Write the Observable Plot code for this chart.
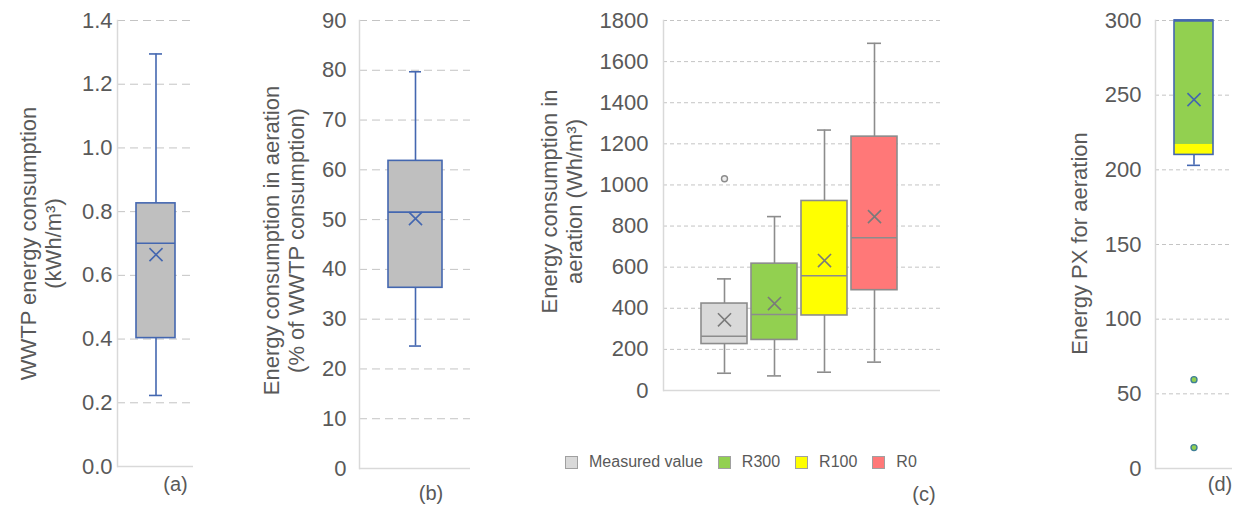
<!DOCTYPE html>
<html><head><meta charset="utf-8">
<script src="https://cdn.jsdelivr.net/npm/d3@7"></script>
<script src="https://cdn.jsdelivr.net/npm/@observablehq/plot@0.6"></script>
<style>
body{margin:0;background:#fff;font-family:"Liberation Sans",Arial,sans-serif;}
#root{position:relative;width:1238px;height:515px;overflow:hidden;background:#fff;}
.panel{position:absolute;top:0;}
#legend{position:absolute;left:565px;top:453px;display:flex;align-items:center;font-size:16px;color:#595959;white-space:nowrap;}
.item{display:flex;align-items:center;margin-right:15px;}
.sw{width:11px;height:11px;border:1px solid #a0a0a0;margin-right:11px;}
</style></head><body><div id="root"></div>
<script>
// ---------- data ----------
// (a) WWTP energy consumption (kWh/m3)
const aCategory = ["WWTP"];
const aMin = [0.223], aQ1 = [0.403], aMedian = [0.701], aQ3 = [0.826], aMax = [1.295], aMean = [0.665];
const aTicks = [0, 0.2, 0.4, 0.6, 0.8, 1.0, 1.2, 1.4];

// (b) Energy consumption in aeration (% of WWTP consumption)
const bCategory = ["Aeration share"];
const bMin = [24.6], bQ1 = [36.3], bMedian = [51.5], bQ3 = [61.8], bMax = [79.7], bMean = [50.2];
const bTicks = [0, 10, 20, 30, 40, 50, 60, 70, 80, 90];

// (c) Energy consumption in aeration (Wh/m3)
const cCategories = ["Measured value", "R300", "R100", "R0"];
const cMin = [84, 71, 89, 138];
const cQ1 = [226, 246, 365, 488];
const cMedian = [264, 370, 558, 743];
const cQ3 = [423, 617, 922, 1235];
const cMax = [543, 846, 1267, 1689];
const cMean = [344, 423, 632, 846];
const cOutlierCategory = ["Measured value"];
const cOutlierValue = [1030];
const cTicks = [0, 200, 400, 600, 800, 1000, 1200, 1400, 1600, 1800];
const cColors = ["#d9d9d9", "#92d050", "#ffff00", "#ff7878"];

// (d) Energy PX for aeration
const dCategory = ["PX"];
const dMin = [203], dQ1 = [210], dSplit = [217], dMedian = [300], dQ3 = [300], dMax = [300], dMean = [247];
const dOutlierValue = [59.5, 14];
const dTicks = [0, 50, 100, 150, 200, 250, 300];

// ---------- build ----------
const TXT = "#595959";
const root = document.getElementById("root");

function rowsOf(cats, mn, q1, med, q3, mx, mean) {
  return cats.map((c, i) => ({cat: c, min: mn[i], q1: q1[i], median: med[i], q3: q3[i], max: mx[i], mean: mean[i]}));
}

function panel(o) {
  const marks = [
    Plot.gridY({ticks: o.ticks, stroke: "#c4c4c4", strokeOpacity: 1, strokeDasharray: o.dash, strokeWidth: 1}),
    Plot.ruleY([o.domain[0]], {stroke: "#d9d9d9", strokeWidth: 1.5}),
    Plot.frame({anchor: "left", stroke: "#d9d9d9", strokeWidth: 1.5}),
    Plot.axisY({ticks: o.ticks, tickSize: 0, tickPadding: o.tickPad, fontSize: 22, tickFormat: o.fmt, fill: TXT}),
    Plot.text([o.title], {frameAnchor: "left", rotate: -90, dx: o.titleDx, dy: o.titleDy, fontSize: 22, lineHeight: 1.14, fill: TXT, textAnchor: "middle"}),
    Plot.text([o.label], {frameAnchor: "bottom", dx: o.labelDx, dy: o.labelDy, fontSize: 20, fill: TXT}),
    // whiskers
    Plot.ruleX(o.rows, {x: "cat", y1: "q3", y2: "max", stroke: o.stroke, strokeWidth: 1.6}),
    Plot.ruleX(o.rows, {x: "cat", y1: "min", y2: "q1", stroke: o.stroke, strokeWidth: 1.6}),
    Plot.tickY(o.rows, {x: "cat", y: "max", stroke: o.stroke, strokeWidth: 1.6, insetLeft: o.capInset, insetRight: o.capInset}),
    Plot.tickY(o.rows, {x: "cat", y: "min", stroke: o.stroke, strokeWidth: 1.6, insetLeft: o.capInset, insetRight: o.capInset}),
    // box
    Plot.barY(o.rows, {x: "cat", y1: "q1", y2: "q3", fill: o.fill}),
    ...(o.extra || []),
    Plot.barY(o.rows, {x: "cat", y1: "q1", y2: "q3", fill: "none", stroke: o.stroke, strokeWidth: 1.6}),
    Plot.tickY(o.rows, {x: "cat", y: "median", stroke: o.stroke, strokeWidth: o.medianWidth || 1.6}),
    Plot.dot(o.rows, {x: "cat", y: "mean", symbol: "times", r: 6, stroke: o.meanStroke, strokeWidth: 1.6}),
    ...(o.outliers ? [Plot.dot(o.outliers, {x: "cat", y: "v", r: 3, fill: o.outFill, stroke: o.outStroke, strokeWidth: 1.4})] : [])
  ];
  const svg = Plot.plot({
    width: o.width, height: 515,
    marginLeft: o.mL, marginRight: o.mR, marginTop: 20, marginBottom: o.mB,
    style: {fontFamily: "'Liberation Sans', Arial, sans-serif", color: TXT, background: "transparent", overflow: "visible"},
    x: {type: "band", domain: o.cats, axis: null, paddingInner: o.padInner, paddingOuter: o.padOuter, align: o.align ?? 0.5},
    y: {domain: o.domain, axis: null},
    color: o.colorScale,
    marks
  });
  const div = document.createElement("div");
  div.className = "panel";
  div.style.left = o.left + "px";
  div.appendChild(svg);
  root.appendChild(div);
}

const BLUE = "#4467b0";

// (a)
panel({
  cats: aCategory, rows: rowsOf(aCategory, aMin, aQ1, aMedian, aQ3, aMax, aMean),
  left: 0, width: 200, mL: 117, mR: 7, mB: 49,
  domain: [0, 1.4], ticks: aTicks, fmt: d3.format(".1f"), tickPad: 5, dash: "8,5",
  padInner: 0, padOuter: 0.47, fill: "#bfbfbf", stroke: BLUE, meanStroke: BLUE,
  title: "WWTP energy consumption\n(kWh/m³)", titleDx: -77, titleDy: 0,
  label: "(a)", labelDx: 20, labelDy: 24, capInset: 13
});

// (b)
panel({
  cats: bCategory, rows: rowsOf(bCategory, bMin, bQ1, bMedian, bQ3, bMax, bMean),
  left: 240, width: 235, mL: 119, mR: 5, mB: 47,
  domain: [0, 90], ticks: bTicks, fmt: d3.format("d"), tickPad: 13, dash: "8,5",
  padInner: 0, padOuter: 0.51, fill: "#bfbfbf", stroke: BLUE, meanStroke: BLUE,
  title: "Energy consumption in aeration\n(% of WWTP consumption)", titleDx: -76, titleDy: -4,
  label: "(b)", labelDx: 16, labelDy: 31, capInset: 21
});

// (c)
const cRows = rowsOf(cCategories, cMin, cQ1, cMedian, cQ3, cMax, cMean);
panel({
  cats: cCategories, rows: cRows,
  left: 520, width: 425, mL: 143, mR: 5, mB: 125,
  domain: [0, 1800], ticks: cTicks, fmt: d3.format("d"), tickPad: 15, dash: "4,3",
  padInner: 0.09, padOuter: 0.78, align: 0.47,
  fill: "cat", colorScale: {domain: cCategories, range: cColors},
  stroke: "#8c8c8c", meanStroke: "#7a7a7a",
  outliers: cOutlierCategory.map((c, i) => ({cat: c, v: cOutlierValue[i]})), outFill: "#eeeeee", outStroke: "#8c8c8c",
  title: "Energy consumption in\naeration (Wh/m³)", titleDx: -102, titleDy: -4,
  label: "(c)", labelDx: 122, labelDy: 110, capInset: 16
});

// (d)
const dRows = dCategory.map((c, i) => ({cat: c, min: dMin[i], q1: dQ1[i], split: dSplit[i], median: dMedian[i], q3: dQ3[i], max: dMax[i], mean: dMean[i]}));
panel({
  cats: dCategory, rows: dRows,
  left: 1040, width: 198, mL: 115, mR: 6, mB: 47,
  domain: [0, 300], ticks: dTicks, fmt: d3.format("d"), tickPad: 14, dash: "4,3",
  padInner: 0, padOuter: 0.487, fill: "#92d050", stroke: BLUE, meanStroke: BLUE,
  extra: [Plot.barY(dRows, {x: "cat", y1: "q1", y2: "split", fill: "#ffff00"})],
  medianWidth: 2.6,
  outliers: dOutlierValue.map(v => ({cat: dCategory[0], v})), outFill: "#92d050", outStroke: "#3f7f95",
  title: "Energy PX for aeration", titleDx: -77, titleDy: -1,
  label: "(d)", labelDx: 26, labelDy: 22, capInset: 13
});

// legend for (c)
const legend = document.createElement("div");
legend.id = "legend";
cCategories.forEach((c, i) => {
  const it = document.createElement("div"); it.className = "item";
  const sw = document.createElement("div"); sw.className = "sw"; sw.style.background = cColors[i];
  const tx = document.createElement("span"); tx.textContent = c;
  it.appendChild(sw); it.appendChild(tx); legend.appendChild(it);
});
root.appendChild(legend);
</script>
</body></html>
